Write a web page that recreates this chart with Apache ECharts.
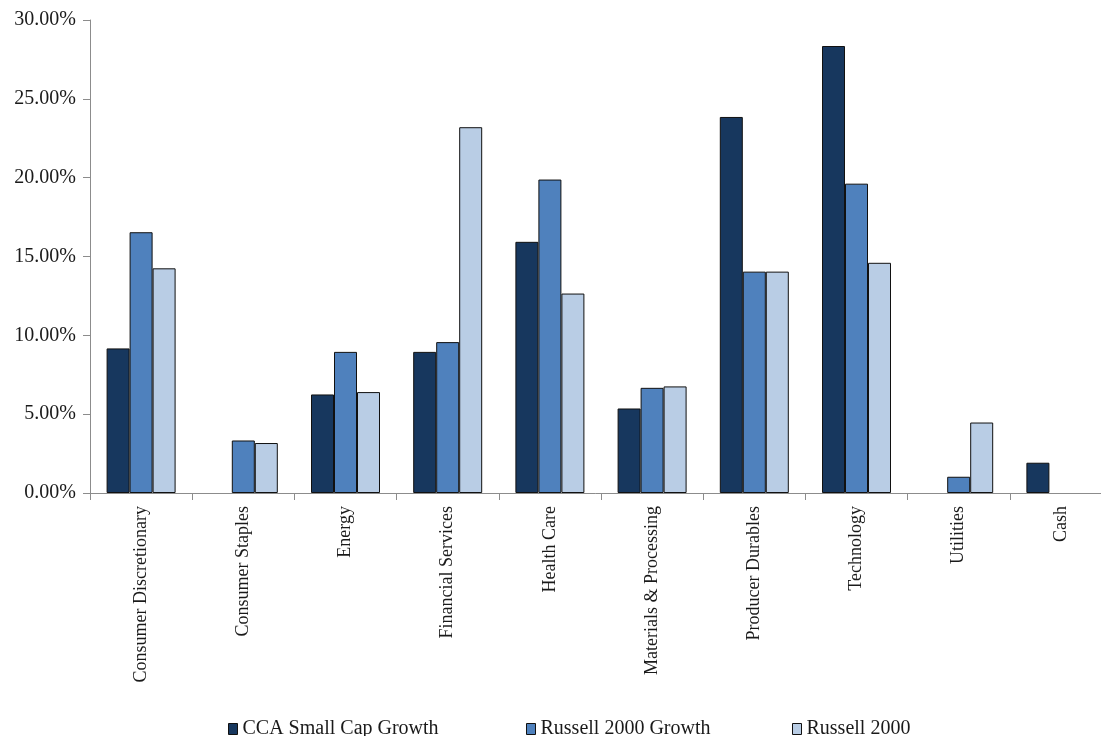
<!DOCTYPE html>
<html>
<head>
<meta charset="utf-8">
<title>Sector weights</title>
<script src="https://cdn.jsdelivr.net/npm/echarts@6/dist/echarts.min.js"></script>
<style>
html, body { margin: 0; padding: 0; background: #fff; }
#chart { width: 1101px; height: 736px; }
</style>
</head>
<body>
<div id="chart"></div>
<script>
'use strict';

// sectors on the x axis
var categories = ['Consumer Discretionary', 'Consumer Staples', 'Energy', 'Financial Services', 'Health Care',
	'Materials & Processing', 'Producer Durables', 'Technology', 'Utilities', 'Cash'];

var seriesNames = ['CCA Small Cap Growth', 'Russell 2000 Growth', 'Russell 2000'];

// weights in % (null = no bar)
var ccaValues = [9.17, null, 6.25, 8.95, 15.93, 5.36, 23.85, 28.35, null, 1.92];
var r2000gValues = [16.54, 3.33, 8.95, 9.57, 19.88, 6.67, 14.04, 19.62, 1.03, null];
var r2000Values = [14.25, 3.17, 6.40, 23.2, 12.65, 6.76, 14.04, 14.6, 4.47, null];

var yTicks = [0, 5, 10, 15, 20, 25, 30];

var colorList = ['#17375E', '#4F81BD', '#B9CDE5'];
var legendLeft = [223, 521, 787];
var fontFamily = '"Liberation Serif", "DejaVu Serif", serif';
var textColor = '#1a1a1a';

var chart = echarts.init(document.getElementById('chart'));

function makeBar(name, data, color) {
	return {
		name: name,
		type: 'bar',
		data: data,
		barWidth: 23,
		barGap: '0%',
		itemStyle: {
			color: color,
			borderColor: '#111',
			borderWidth: 1
		}
	};
}

// one legend per item so each sits where the original has it
var legends = seriesNames.map(function(n, i) {
	return {
		data: [{ name: n, itemStyle: { color: colorList[i], borderColor: '#111', borderWidth: 1 } }],
		left: legendLeft[i],
		top: 714,
		icon: 'rect',
		itemWidth: 9,
		itemHeight: 11,
		itemGap: 0,
		selectedMode: false,
		textStyle: { fontFamily: fontFamily, fontSize: 20, color: textColor }
	};
});

var option = {
	animation: false,
	textStyle: { fontFamily: fontFamily, color: textColor },
	grid: {
		left: 90,
		top: 20,
		width: 1022, // last category runs past the right edge, as in the original
		bottom: 243,
		containLabel: false,
		outerBoundsMode: 'none'
	},
	legend: legends,
	xAxis: {
		type: 'category',
		data: categories,
		axisLine: { lineStyle: { color: '#8c8c8c', width: 1 } },
		axisTick: { show: true, length: 7, lineStyle: { color: '#8c8c8c' } },
		axisLabel: {
			rotate: 90,
			margin: 13,
			interval: 0,
			fontFamily: fontFamily,
			fontSize: 18,
			color: textColor
		}
	},
	yAxis: {
		type: 'value',
		min: yTicks[0],
		max: yTicks[yTicks.length - 1],
		interval: 5,
		splitLine: { show: false },
		axisLine: { show: true, lineStyle: { color: '#8c8c8c', width: 1 } },
		axisTick: { show: true, length: 7, lineStyle: { color: '#8c8c8c' } },
		axisLabel: {
			margin: 14,
			fontFamily: fontFamily,
			fontSize: 20,
			color: textColor,
			formatter: function(v) { return v.toFixed(2) + '%'; }
		}
	},
	series: [
		makeBar(seriesNames[0], ccaValues, colorList[0]),
		makeBar(seriesNames[1], r2000gValues, colorList[1]),
		makeBar(seriesNames[2], r2000Values, colorList[2])
	]
};

chart.setOption(option);
window.addEventListener('resize', function() {
	chart && chart.resize();
});
</script>
</body>
</html>
